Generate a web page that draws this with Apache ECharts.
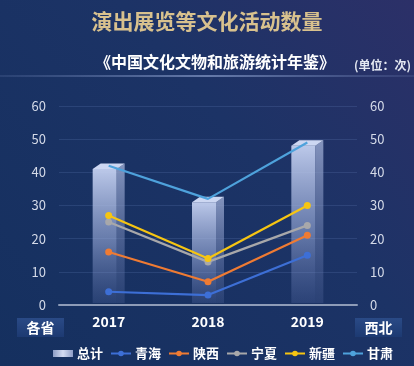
<!DOCTYPE html>
<html><head><meta charset="utf-8">
<script src="https://cdn.jsdelivr.net/npm/echarts@6/dist/echarts.min.js"></script>
<style>html,body{margin:0;padding:0;background:#1a3063;}#c{width:414px;height:366px;}</style>
</head><body><div id="c"></div>
<script>
const years = ['2017', '2018', '2019'];
const total = [41, 31, 48];
const qinghai = [4, 3, 15];
const shaanxi = [16, 7, 21];
const ningxia = [25, 13, 24];
const xinjiang = [27, 14, 30];
const gansu = [42, 32, 49];
const yTicks = [0, 10, 20, 30, 40, 50, 60];

const FONT = '"Noto Sans CJK SC","Noto Sans",sans-serif';
const chart = echarts.init(document.getElementById('c'));

function bar3d(params, api) {
  const top = api.coord([api.value(0), api.value(1)]);
  const base = api.coord([api.value(0), 0]);
  const fw = 24, sw = 8, dy = 5.5;
  const l = top[0] - 16;
  const t = top[1], b = base[1] - 2;
  return {
    type: 'group',
    children: [
      { type: 'rect', shape: { x: l, y: t, width: fw, height: b - t },
        style: { fill: new echarts.graphic.LinearGradient(0, 0, 0, 1, [
          { offset: 0, color: 'rgba(196,208,240,0.95)' },
          { offset: 0.55, color: 'rgba(150,168,215,0.6)' },
          { offset: 1, color: 'rgba(110,130,190,0.2)' }]) } },
      { type: 'polygon', shape: { points: [[l + fw, t], [l + fw + sw, t - dy], [l + fw + sw, b], [l + fw, b]] },
        style: { fill: new echarts.graphic.LinearGradient(0, 0, 0, 1, [
          { offset: 0, color: 'rgba(150,165,205,0.85)' },
          { offset: 1, color: 'rgba(90,110,165,0.25)' }]) } },
      { type: 'polygon', shape: { points: [[l, t], [l + sw, t - dy], [l + fw + sw, t - dy], [l + fw, t]] },
        style: { fill: 'rgba(205,215,242,1)' } }
    ]
  };
}

function lineSeries(name, data, color, showSym) {
  return {
    name, type: 'line', data, z: 5,
    symbol: 'circle', symbolSize: 7, showSymbol: showSym !== false,
    lineStyle: { color, width: 2.2 },
    itemStyle: { color }
  };
}

const yAxisBase = {
  type: 'value', min: 0, max: 60, interval: 10,
  axisLine: { show: false }, axisTick: { show: false },
  splitLine: { lineStyle: { color: 'rgba(120,150,210,0.18)', width: 1 } },
  axisLabel: { color: '#d4dae8', fontSize: 13, fontFamily: FONT, margin: 13,
    formatter: v => yTicks.includes(v) ? String(v) : '' }
};

chart.setOption({
  backgroundColor: new echarts.graphic.LinearGradient(0, 1, 1, 0, [
    { offset: 0, color: '#15305f' },
    { offset: 0.6, color: '#1c3366' },
    { offset: 1, color: '#2c3068' }]),
  title: [
    { text: '演出展览等文化活动数量', left: 'center', top: 6,
      textStyle: { color: '#d8c18e', fontSize: 21, fontWeight: 'bold', fontFamily: FONT } },
    { text: '《中国文化文物和旅游统计年鉴》', left: 90, top: 49,
      textStyle: { color: '#ffffff', fontSize: 16, fontWeight: 'bold', fontFamily: FONT } },
    { text: '(单位：次)', left: 349, top: 54,
      textStyle: { color: '#e4e8f2', fontSize: 12, fontWeight: 'bold', fontFamily: FONT } }
  ],
  graphic: [
    { type: 'line', shape: { x1: 0, y1: 76, x2: 414, y2: 76 },
      style: { lineWidth: 1.5, stroke: new echarts.graphic.LinearGradient(0, 0, 1, 0, [
        { offset: 0, color: 'rgba(130,150,200,0.2)' },
        { offset: 0.5, color: 'rgba(150,170,215,0.8)' },
        { offset: 1, color: 'rgba(130,150,200,0.2)' }]) } },
    { type: 'group', left: 17, top: 318, children: [
      { type: 'rect', shape: { x: 0, y: 0, width: 47, height: 19 },
        style: { fill: new echarts.graphic.LinearGradient(0, 0, 0, 1, [
          { offset: 0, color: '#2a4a86' }, { offset: 1, color: '#1d3a72' }]) } },
      { type: 'text', x: 23.5, y: 9.5, style: { text: '各省', fill: '#ffffff', fontSize: 14, fontWeight: 'bold',
        fontFamily: FONT, align: 'center', verticalAlign: 'middle' } }
    ] },
    { type: 'group', left: 355, top: 318, children: [
      { type: 'rect', shape: { x: 0, y: 0, width: 47, height: 19 },
        style: { fill: new echarts.graphic.LinearGradient(0, 0, 0, 1, [
          { offset: 0, color: '#2a4a86' }, { offset: 1, color: '#1d3a72' }]) } },
      { type: 'text', x: 23.5, y: 9.5, style: { text: '西北', fill: '#ffffff', fontSize: 14, fontWeight: 'bold',
        fontFamily: FONT, align: 'center', verticalAlign: 'middle' } }
    ] }
  ],
  legend: {
    left: 48, top: 342, itemWidth: 20, itemHeight: 7, itemGap: 7,
    textStyle: { color: '#ffffff', fontSize: 13, fontWeight: 'bold', fontFamily: FONT, padding: [0, 0, 0, -1] },
    data: [
      { name: '总计', icon: 'rect', itemStyle: { color: new echarts.graphic.LinearGradient(0, 0, 1, 0, [
        { offset: 0, color: '#8d9dc6' }, { offset: 0.5, color: '#d4dcf2' }, { offset: 1, color: '#8d9dc6' }]) } },
      '青海', '陕西', '宁夏', '新疆', '甘肃'
    ]
  },
  grid: { left: 59, right: 57, top: 106, bottom: 61 },
  xAxis: {
    type: 'category', data: years,
    axisLine: { lineStyle: { color: '#8e9cb8', width: 2 } },
    axisTick: { show: false },
    axisLabel: { color: '#ffffff', fontSize: 14, fontWeight: 'bold', fontFamily: FONT, margin: 10 }
  },
  yAxis: [
    Object.assign({}, yAxisBase, { position: 'left' }),
    Object.assign({}, yAxisBase, { position: 'right', splitLine: { show: false } })
  ],
  series: [
    { name: '总计', type: 'custom', renderItem: bar3d, data: total.map((v, i) => [i, v]),
      encode: { x: 0, y: 1 }, z: 2,
      itemStyle: { color: '#c4d0f0' } },
    lineSeries('青海', qinghai, '#3d6fd6'),
    lineSeries('陕西', shaanxi, '#ef7b33'),
    lineSeries('宁夏', ningxia, '#a8a8aa'),
    lineSeries('新疆', xinjiang, '#f6c512'),
    lineSeries('甘肃', gansu, '#4ea2dc', false)
  ]
});
</script></body></html>
